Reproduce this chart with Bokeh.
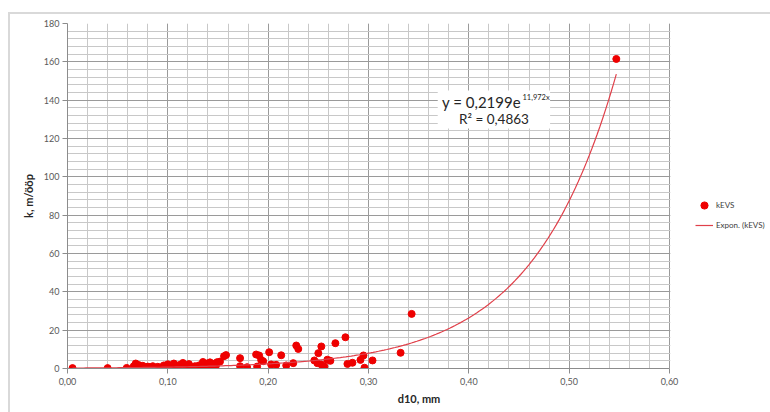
import numpy as np
from bokeh.plotting import figure
from bokeh.models import (FixedTicker, Label, Legend, LegendItem, BoxAnnotation,
                          ColumnDataSource, Range1d, InlineStyleSheet)
from bokeh.embed import file_html
from bokeh.resources import INLINE

# ---- data ----
d10 = [0.005, 0.040, 0.059, 0.066, 0.068, 0.069, 0.071, 0.073, 0.075, 0.077,
       0.080, 0.082, 0.085, 0.087, 0.090, 0.093, 0.096, 0.098, 0.100, 0.103,
       0.106, 0.109, 0.112, 0.115, 0.118, 0.121, 0.125, 0.127, 0.129, 0.131,
       0.133, 0.135, 0.136, 0.138, 0.139, 0.141, 0.142, 0.144, 0.146, 0.148,
       0.149, 0.152, 0.156, 0.158, 0.172, 0.172, 0.179, 0.188, 0.189, 0.191,
       0.193, 0.195, 0.201, 0.203, 0.208, 0.213, 0.218, 0.225, 0.228, 0.230,
       0.246, 0.249, 0.250, 0.253, 0.253, 0.256, 0.259, 0.262, 0.267, 0.277,
       0.279, 0.284, 0.292, 0.295, 0.296, 0.304, 0.332, 0.343, 0.547]
kEVS = [0.2, 0.2, 0.3, 1.2, 2.6, 0.5, 1.8, 0.8, 1.4, 0.4,
        1.0, 0.6, 1.2, 0.3, 0.9, 0.5, 1.6, 0.7, 2.2, 1.1,
        2.6, 0.8, 1.9, 2.9, 1.3, 2.3, 0.5, 1.2, 0.3, 1.6,
        0.8, 3.4, 1.9, 0.4, 2.6, 1.2, 3.2, 0.6, 2.4, 1.6,
        3.3, 3.6, 6.4, 7.0, 5.4, 1.2, 0.7, 7.3, 1.0, 6.8,
        4.5, 3.8, 8.5, 2.1, 1.9, 6.9, 1.6, 2.8, 12.0, 10.2,
        4.2, 2.8, 8.0, 11.5, 2.1, 1.0, 4.6, 4.0, 13.2, 16.3,
        2.4, 3.0, 4.5, 6.8, 0.4, 4.2, 8.2, 28.5, 161.5]

fit_a = 0.2199
fit_b = 11.972
equation_text = "y = 0,2199e"
equation_exp = "11,972x"
r2_text = "R\u00b2 = 0,4863"

x_ticks = [0.0, 0.1, 0.2, 0.3, 0.4, 0.5, 0.6]
x_tick_labels = ["0,00", "0,10", "0,20", "0,30", "0,40", "0,50", "0,60"]
y_ticks = [0, 20, 40, 60, 80, 100, 120, 140, 160, 180]

FONT = "Lato"
X_MAX = 0.6
X_VIEW = 0.6 * 703 / 602   # frame extends to the right edge; plot area stops at 0.6

border_css = InlineStyleSheet(css="""
:host { position: relative; }
:host::after { content: ""; position: absolute; left: 8px; top: 12px;
  width: 900px; height: 600px; border: 2px solid #d9d9d9;
  box-sizing: border-box; pointer-events: none; }
""")

p = figure(width=770, height=412, output_backend="svg", toolbar_location=None,
           x_range=Range1d(0, X_VIEW), y_range=Range1d(0, 180),
           min_border_left=67, min_border_right=0, min_border_top=23,
           min_border_bottom=44)
p.stylesheets = [border_css]
p.outline_line_color = None
p.background_fill_color = "white"
p.border_fill_color = "white"

x_minor = [round(i * 0.02, 2) for i in range(31)]
y_minor = [i * 4 for i in range(46)]
p.xaxis.ticker = FixedTicker(ticks=x_ticks, minor_ticks=x_minor)
p.yaxis.ticker = FixedTicker(ticks=y_ticks, minor_ticks=y_minor)
p.xaxis.major_label_overrides = {t: l for t, l in zip(x_ticks, x_tick_labels)}
p.xaxis.bounds = (0, X_MAX)

for g in (p.xgrid, p.ygrid):
    g.grid_line_color = "#9a9a9a"
    g.grid_line_width = 1
    g.minor_grid_line_color = "#c8c8c8"
    g.minor_grid_line_width = 1

for ax in (p.xaxis, p.yaxis):
    ax.axis_line_color = "#8c8c8c"
    ax.major_tick_line_color = "#8c8c8c"
    ax.major_tick_out = 5
    ax.major_tick_in = 0
    ax.minor_tick_line_color = None
    ax.major_label_text_font = FONT
    ax.major_label_text_font_size = "9px"
    ax.major_label_text_color = "#595959"
    ax.axis_label_text_font = FONT
    ax.axis_label_text_font_size = "11px"
    ax.axis_label_text_font_style = "bold"
    ax.axis_label_text_color = "#262626"
p.xaxis.axis_label = "d10, mm"
p.yaxis.axis_label = "k, m/\u00f6\u00f6p"
p.xaxis.major_label_standoff = 4
p.yaxis.major_label_standoff = 3
p.xaxis.axis_label_standoff = 4
p.yaxis.axis_label_standoff = 6

src = ColumnDataSource(dict(x=d10, y=kEVS))
sc = p.scatter("x", "y", source=src, size=7, color="#ee0000")

xf = np.linspace(min(d10), max(d10), 200)
yf = fit_a * np.exp(fit_b * xf)
ln = p.line(xf, yf, line_color="#e0404a", line_width=1.2)

# blank out the area right of the plot area (legend region)
p.add_layout(BoxAnnotation(left=X_MAX + 0.0008, fill_color="white",
                           fill_alpha=1, line_color=None))

# equation box
p.add_layout(BoxAnnotation(left=0.369, right=0.481, bottom=125.2, top=145.0,
                           fill_color="white", fill_alpha=1, line_color=None))
p.add_layout(Label(x=0.3733, y=138.8, text=equation_text, text_font=FONT,
                   text_font_size="15px", text_color="#262626",
                   text_baseline="middle"))
p.add_layout(Label(x=0.4535, y=141.6, text=equation_exp, text_font=FONT,
                   text_font_size="7.5px", text_color="#262626",
                   text_baseline="middle"))
p.add_layout(Label(x=0.3902, y=130.4, text=r2_text, text_font=FONT,
                   text_font_size="13.5px", text_color="#262626",
                   text_baseline="middle"))

legend = Legend(items=[LegendItem(label="kEVS", renderers=[sc]),
                       LegendItem(label="Expon. (kEVS)", renderers=[ln])],
                location=(628, 133), orientation="vertical",
                label_text_font=FONT, label_text_font_size="8px",
                label_text_color="#404040", glyph_width=18, glyph_height=20,
                label_height=20, spacing=0, padding=0, margin=0,
                label_standoff=3, border_line_color=None,
                background_fill_alpha=0)
p.add_layout(legend, "center")

open("out.html", "w").write(file_html(p, INLINE))
